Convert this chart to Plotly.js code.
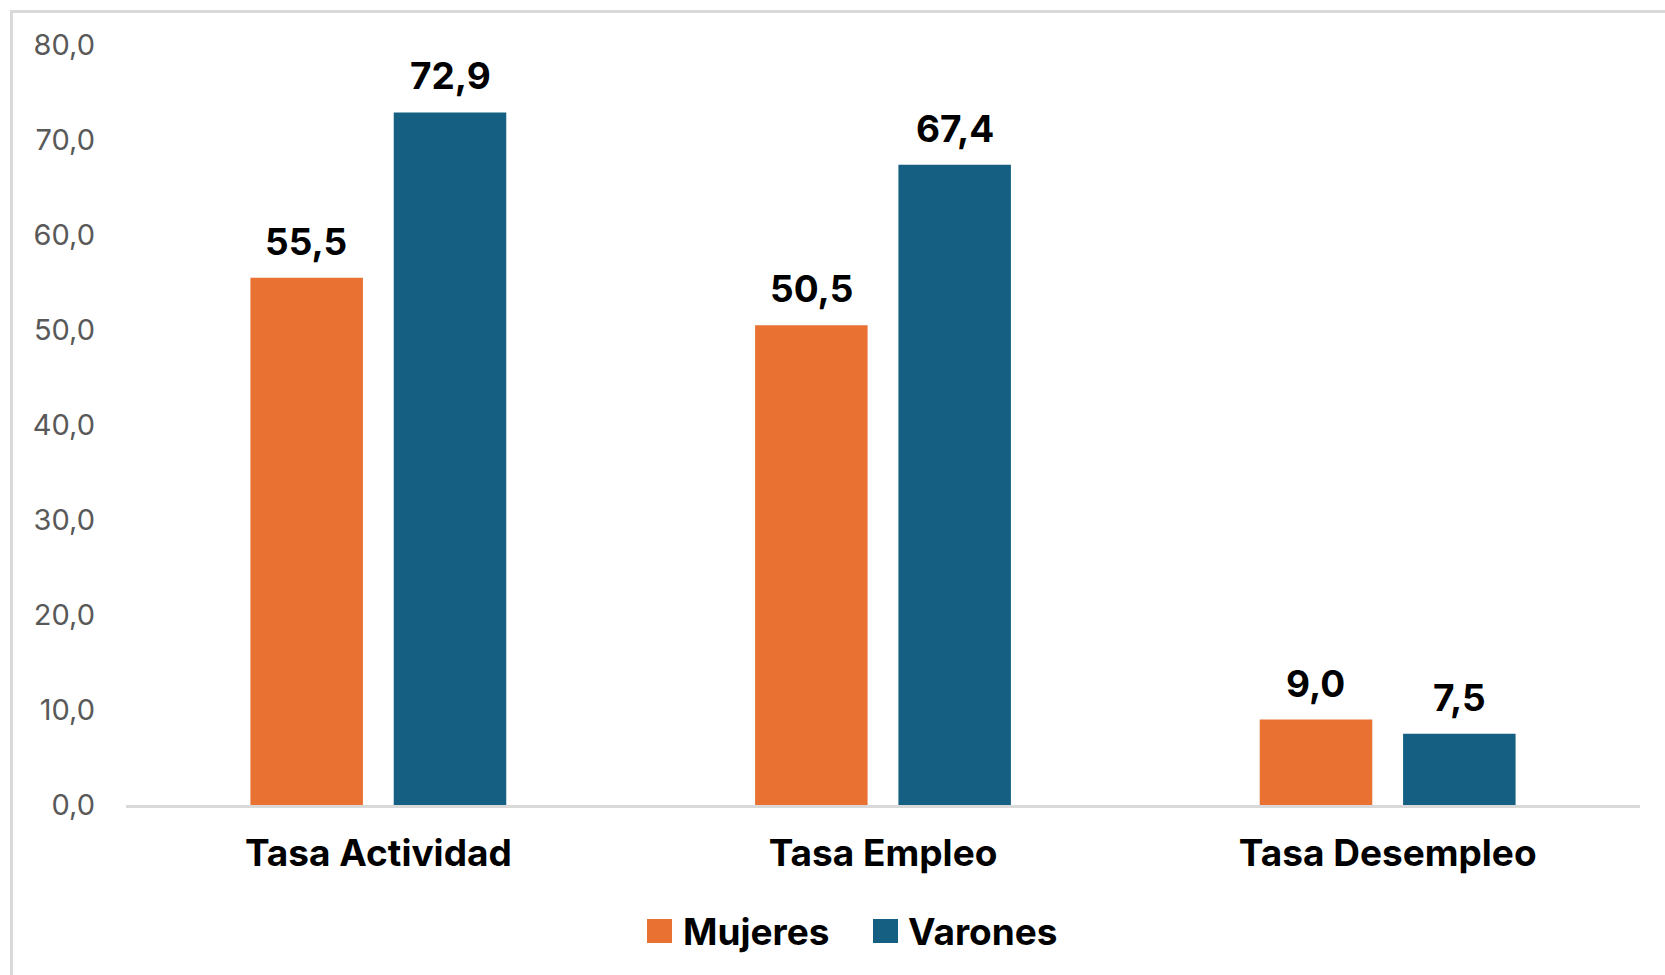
<!DOCTYPE html>
<html>
<head>
<meta charset="utf-8">
<script src="https://cdn.plot.ly/plotly-3.0.1.min.js"></script>
<style>
  html, body { margin: 0; padding: 0; background: #ffffff; }
  #wrap { position: relative; width: 1665px; height: 975px; }
  #chart { position: absolute; left: 0; top: 0; width: 1665px; height: 975px; }
  #frame { position: absolute; left: 10px; top: 10px; right: 0; bottom: 0;
           border-top: 3px solid #d9d9d9; border-left: 3px solid #d9d9d9; pointer-events: none; }
</style>
</head>
<body>
<div id="wrap">
  <div id="chart"></div>
  <div id="frame"></div>
</div>
<script>
const categories = ["Tasa Actividad", "Tasa Empleo", "Tasa Desempleo"];
const mujeres = [55.5, 50.5, 9.0];
const varones = [72.9, 67.4, 7.5];
const seriesNames = ["Mujeres", "Varones"];
const yTicks = [0, 10, 20, 30, 40, 50, 60, 70, 80];

const colors = ["#E97132", "#156082"];
const fmt = v => v.toFixed(1).replace(".", ",");
const FONT = "Inter, Liberation Sans, Arial, sans-serif";

const W = 1665, H = 975;
const M = { l: 126, r: 25, t: 45, b: 170 };
const PW = W - M.l - M.r, PH = H - M.t - M.b;
const px2x = p => (p - M.l) / PW;
const px2y = p => (H - M.b - p) / PH;

const traces = [mujeres, varones].map((vals, i) => ({
  type: "bar",
  name: seriesNames[i],
  x: categories,
  y: vals,
  marker: { color: colors[i] },
  showlegend: false,
  hoverinfo: "skip"
}));

const labelFont = { family: FONT, size: 37, color: "#000000", weight: "bold" };
const annotations = [];
[mujeres, varones].forEach((vals, i) => {
  vals.forEach((v, j) => {
    annotations.push({
      x: categories[j], y: v, xref: "x", yref: "y",
      text: "<b>" + fmt(v) + "</b>",
      showarrow: false,
      xanchor: "center", yanchor: "bottom",
      xshift: i === 0 ? -72 : 72,
      yshift: 12,
      font: labelFont
    });
  });
});

// legend built from the series names and colours
const legendSquares = [647, 873];
const legendTexts = [681, 906];
const shapes = [];
seriesNames.forEach((name, i) => {
  shapes.push({
    type: "rect", xref: "paper", yref: "paper",
    x0: px2x(legendSquares[i]), x1: px2x(legendSquares[i] + 25),
    y0: px2y(943), y1: px2y(919),
    fillcolor: colors[i], line: { width: 0 }
  });
  annotations.push({
    xref: "paper", yref: "paper",
    x: px2x(legendTexts[i]), y: px2y(931),
    xanchor: "left", yanchor: "middle",
    text: "<b>" + name + "</b>",
    showarrow: false,
    font: { family: FONT, size: 37, color: "#000000", weight: "bold" }
  });
});

const layout = {
  width: W, height: H,
  margin: M,
  paper_bgcolor: "#ffffff",
  plot_bgcolor: "#ffffff",
  separators: ",.",
  barmode: "group",
  bargap: 0.432,
  bargroupgap: 0.215,
  showlegend: false,
  xaxis: {
    type: "category",
    showgrid: false,
    zeroline: false,
    showline: true,
    linecolor: "#d9d9d9",
    linewidth: 3,
    ticks: "",
    ticklabelstandoff: 14,
    tickfont: { family: FONT, size: 37, color: "#000000", weight: "bold" },
    fixedrange: true
  },
  yaxis: {
    range: [0, 80],
    tickvals: yTicks,
    ticktext: yTicks.map(fmt),
    showgrid: false,
    zeroline: false,
    showline: false,
    ticks: "",
    ticklabelstandoff: 30,
    tickfont: { family: FONT, size: 29, color: "#595959" },
    fixedrange: true
  },
  shapes: shapes,
  annotations: annotations
};

Plotly.newPlot("chart", traces, layout, { staticPlot: true, displayModeBar: false });
</script>
</body>
</html>
